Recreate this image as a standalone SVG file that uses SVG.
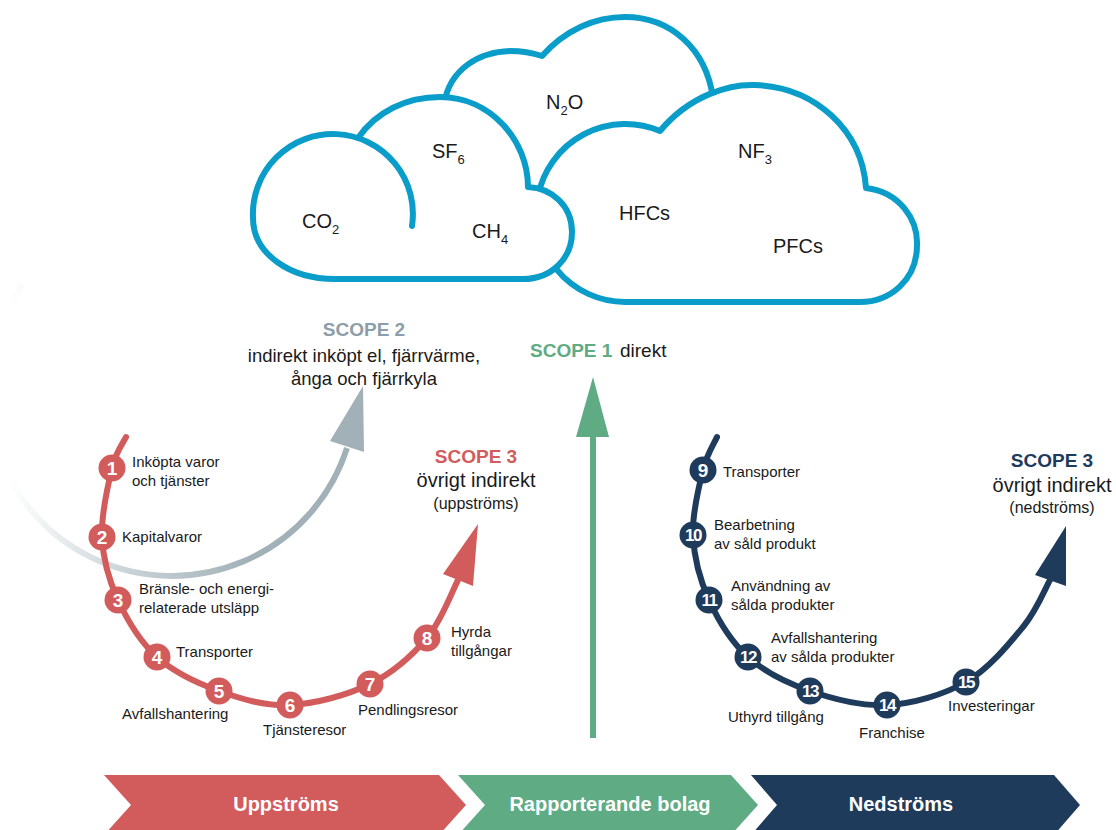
<svg xmlns="http://www.w3.org/2000/svg" width="1116" height="830" viewBox="0 0 1116 830">
<style>
text{font-family:"Liberation Sans",Arial,sans-serif;fill:#1a1a1a}
.lbl{font-size:15px}
.num{font-size:19px;font-weight:bold;fill:#fff;text-anchor:middle}
.num2{font-size:17px;letter-spacing:-1.5px}
.gas{font-size:20px}
.sub{font-size:13px}
.scope{font-size:19px;font-weight:bold}
.body{font-size:19px}
.mid{text-anchor:middle}
.cloud{fill:#fff;stroke:#0a9dc9;stroke-width:6;stroke-linejoin:round;stroke-linecap:round}
.red{fill:#d25c5c}
.navy{fill:#1f3b5b}
.band{font-size:20px;font-weight:bold;fill:#fff;text-anchor:middle}
</style>
<defs>
<linearGradient id="grayfade" gradientUnits="userSpaceOnUse" x1="10" y1="0" x2="250" y2="0">
<stop offset="0" stop-color="#ffffff"/>
<stop offset="0.5" stop-color="#c8d2d7"/>
<stop offset="1" stop-color="#a2b1b8"/>
</linearGradient>
</defs>
<rect width="1116" height="830" fill="#fff"/>

<g id="clouds">
<path id="cloud-n2o" class="cloud" d="M444,104 C450,68 480,52 510,51 C523,51 533,53 542,56 C565,30 595,17 625,17 C670,17 706,48 713,98"/>
<path id="cloud-right" class="cloud" d="M660,131 C690,95 730,84 755,85 C815,87 862,130 866,188 C900,192 918,220 917,245 C917,280 890,302 860,302 L625,302 A89,89 0 1 1 660,131 Z"/>
<path id="cloud-left" class="cloud" d="M412,226 A80,80 0 1 0 253,218 C253,254 290,279 335,279 L523,279 C552,279 572,258 572,232 C572,206 552,188 528,187 C528,140 490,97 440,97 C406,97 376,112 358,138"/>
</g>

<g id="gases">
<text class="gas" x="302" y="228">CO<tspan class="sub" dy="6">2</tspan></text>
<text class="gas" x="432" y="158">SF<tspan class="sub" dy="6">6</tspan></text>
<text class="gas" x="472" y="238">CH<tspan class="sub" dy="6">4</tspan></text>
<text class="gas" x="546" y="109">N<tspan class="sub" dy="6">2</tspan><tspan dy="-6">O</tspan></text>
<text class="gas" x="738" y="158">NF<tspan class="sub" dy="6">3</tspan></text>
<text class="gas" x="619" y="220">HFCs</text>
<text class="gas" x="773" y="253">PFCs</text>
</g>

<g id="connectors">
<path id="scope2-arc" d="M22,285 A184,184 0 1 0 347,448" fill="none" stroke="url(#grayfade)" stroke-width="6"/>
<polygon points="363,386 330,441 364,452" fill="#a2b1b8"/>
<path id="scope1-arrow" d="M593,738 L593,435" stroke="#5fab84" stroke-width="6" fill="none"/>
<polygon points="593,377 576,437 609,437" fill="#5fab84"/>
<path id="upstream-arc" fill="none" stroke="#d25c5c" stroke-width="6" stroke-linecap="round" d="M126,437 C123.7,442.2 116,451.3 112,468 C108,484.7 101,515 102,537 C103,559 108.8,580 118,600 C127.2,620 140.2,641.8 157,657 C173.8,672.2 196.8,683 219,691 C241.2,699 264.8,706.2 290,705 C315.2,703.8 347.2,695.2 370,684 C392.8,672.8 412.3,655.3 427,638 C441.7,620.7 452.8,589.7 458,580"/>
<polygon points="478,524 443,574 473,586" fill="#d25c5c"/>
<path id="downstream-arc" fill="none" stroke="#1f3b5b" stroke-width="6" stroke-linecap="round" d="M717,437 C714.7,442.5 707,453.7 703,470 C699,486.3 692,513.3 693,535 C694,556.7 699.8,579.7 709,600 C718.2,620.3 731.2,641.8 748,657 C764.8,672.2 786.8,683 810,691 C833.2,699 861,706.5 887,705 C913,703.5 943.3,695 966,682 C988.7,669 1009,644 1023,627 C1037,610 1045.5,587.8 1050,580"/>
<polygon points="1066,526 1035,575 1066,586" fill="#1f3b5b"/>
</g>

<g id="scope2">
<text class="scope mid" x="364" y="336" style="fill:#8d9ea8">SCOPE 2</text>
<text class="mid" x="364" y="362" font-size="18.5">indirekt inköpt el, fjärrvärme,</text>
<text class="mid" x="364" y="385" font-size="18.5">ånga och fjärrkyla</text>
</g>
<g id="scope1">
<text class="scope" x="530" y="357" style="fill:#5fab84">SCOPE 1</text>
<text class="body" x="620" y="357">direkt</text>
</g>
<g id="scope3-up">
<text class="scope mid" x="476" y="463" style="fill:#d25c5c">SCOPE 3</text>
<text class="mid" x="476" y="487" font-size="20">övrigt indirekt</text>
<text class="mid" x="476" y="509" font-size="16">(uppströms)</text>
</g>
<g id="scope3-down">
<text class="scope mid" x="1052" y="467" style="fill:#1f3b5b">SCOPE 3</text>
<text class="mid" x="1052" y="492" font-size="20">övrigt indirekt</text>
<text class="mid" x="1052" y="513" font-size="16">(nedströms)</text>
</g>

<g id="n1"><circle class="red" cx="112" cy="468" r="13.5"/><text class="num" x="112" y="475">1</text><text class="lbl" x="132" y="467">Inköpta varor</text><text class="lbl" x="132" y="486">och tjänster</text></g>
<g id="n2"><circle class="red" cx="102" cy="537" r="13.5"/><text class="num" x="102" y="544">2</text><text class="lbl" x="122" y="542">Kapitalvaror</text></g>
<g id="n3"><circle class="red" cx="118" cy="600" r="13.5"/><text class="num" x="118" y="607">3</text><text class="lbl" x="139" y="594">Bränsle- och energi-</text><text class="lbl" x="139" y="613">relaterade utsläpp</text></g>
<g id="n4"><circle class="red" cx="157" cy="657" r="13.5"/><text class="num" x="157" y="664">4</text><text class="lbl" x="176" y="657">Transporter</text></g>
<g id="n5"><circle class="red" cx="219" cy="691" r="13.5"/><text class="num" x="219" y="698">5</text><text class="lbl" x="122" y="719">Avfallshantering</text></g>
<g id="n6"><circle class="red" cx="290" cy="705" r="13.5"/><text class="num" x="290" y="712">6</text><text class="lbl" x="263" y="735">Tjänsteresor</text></g>
<g id="n7"><circle class="red" cx="370" cy="684" r="13.5"/><text class="num" x="370" y="691">7</text><text class="lbl" x="358" y="715">Pendlingsresor</text></g>
<g id="n8"><circle class="red" cx="427" cy="638" r="13.5"/><text class="num" x="427" y="645">8</text><text class="lbl" x="451" y="637">Hyrda</text><text class="lbl" x="451" y="656">tillgångar</text></g>

<g id="n9"><circle class="navy" cx="703" cy="470" r="13.5"/><text class="num" x="703" y="477">9</text><text class="lbl" x="723" y="477">Transporter</text></g>
<g id="n10"><circle class="navy" cx="693" cy="535" r="13.5"/><text class="num num2" x="693" y="541">10</text><text class="lbl" x="714" y="530">Bearbetning</text><text class="lbl" x="714" y="549">av såld produkt</text></g>
<g id="n11"><circle class="navy" cx="709" cy="600" r="13.5"/><text class="num num2" x="709" y="606">11</text><text class="lbl" x="731" y="591">Användning av</text><text class="lbl" x="731" y="610">sålda produkter</text></g>
<g id="n12"><circle class="navy" cx="748" cy="657" r="13.5"/><text class="num num2" x="748" y="663">12</text><text class="lbl" x="771" y="643">Avfallshantering</text><text class="lbl" x="771" y="662">av sålda produkter</text></g>
<g id="n13"><circle class="navy" cx="810" cy="691" r="13.5"/><text class="num num2" x="810" y="697">13</text><text class="lbl" x="728" y="722">Uthyrd tillgång</text></g>
<g id="n14"><circle class="navy" cx="887" cy="705" r="13.5"/><text class="num num2" x="887" y="711">14</text><text class="lbl" x="859" y="738">Franchise</text></g>
<g id="n15"><circle class="navy" cx="966" cy="682" r="13.5"/><text class="num num2" x="966" y="688">15</text><text class="lbl" x="948" y="711">Investeringar</text></g>

<g id="band-upstream"><polygon points="104,775 439,775 466,805 439,835 104,835 131,805" fill="#d25c5c"/><text class="band" x="286" y="811">Uppströms</text></g>
<g id="band-company"><polygon points="458,775 731,775 758,805 731,835 458,835 485,805" fill="#5fab84"/><text class="band" x="610" y="811">Rapporterande bolag</text></g>
<g id="band-downstream"><polygon points="751,775 1054,775 1080,805 1054,835 751,835 777,805" fill="#1f3b5b"/><text class="band" x="901" y="811">Nedströms</text></g>
</svg>
